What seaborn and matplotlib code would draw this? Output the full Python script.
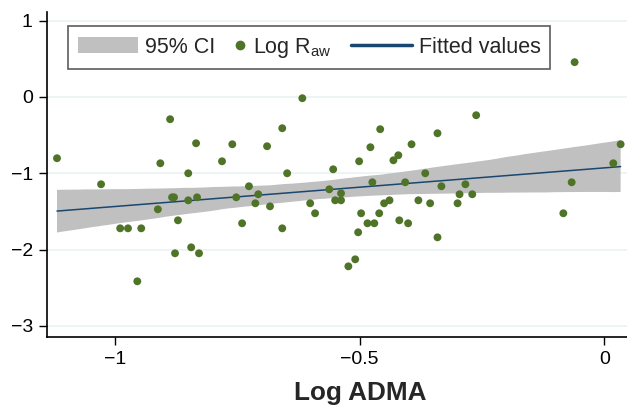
import pandas as pd
import seaborn as sns
import matplotlib.pyplot as plt
from matplotlib.patches import Patch
from matplotlib.lines import Line2D
from matplotlib.legend_handler import HandlerLine2D

# Datos
log_adma = [
    -1.118, -1.028, -0.989, -0.973, -0.946, -0.954, -0.907, -0.887, -0.912, -0.883,
    -0.879, -0.877, -0.871, -0.850, -0.850, -0.844, -0.834, -0.832, -0.828, -0.781,
    -0.760, -0.752, -0.740, -0.726, -0.713, -0.707, -0.689, -0.683, -0.658, -0.658,
    -0.648, -0.617, -0.601, -0.591, -0.562, -0.554, -0.550, -0.538, -0.538, -0.501,
    -0.431, -0.421, -0.474, -0.497, -0.503, -0.484, -0.470, -0.460, -0.450, -0.439,
    -0.509, -0.523, -0.419, -0.401, -0.407, -0.380, -0.366, -0.356, -0.341, -0.333,
    -0.296, -0.300, -0.284, -0.270, -0.084, -0.067, 0.018, -0.061, -0.262, -0.458,
    -0.341, -0.478, -0.394, 0.033,
]
log_raw = [
    -0.803, -1.144, -1.721, -1.721, -1.721, -2.415, -0.869, -0.292, -1.472, -1.315,
    -1.315, -2.048, -1.616, -1.000, -1.354, -1.970, -0.607, -1.315, -2.048, -0.843,
    -0.620, -1.315, -1.655, -1.170, -1.393, -1.275, -0.646, -1.433, -0.410, -1.721,
    -1.000, -0.017, -1.393, -1.524, -1.210, -0.948, -1.354, -1.262, -1.354, -0.843,
    -0.830, -0.764, -1.118, -1.524, -1.773, -1.655, -1.655, -1.524, -1.393, -1.354,
    -2.127, -2.219, -1.616, -1.655, -1.118, -1.354, -1.000, -1.393, -1.839, -1.170,
    -1.275, -1.393, -1.144, -1.275, -1.524, -1.118, -0.869, 0.455, -0.240, -0.423,
    -0.476, -0.659, -0.620, -0.620,
]
y_ticks = [1, 0, -1, -2, -3]
x_ticks = [-1, -0.5, 0]
x_tick_labels = ["\u22121", "\u22120.5", "0"]
y_tick_labels = ["1", "0", "\u22121", "\u22122", "\u22123"]

GREEN = "#4f7428"
NAVY = "#1a476f"
GRIS = "#c0c0c0"


class PuntoCorto(HandlerLine2D):
    # clave del marcador más estrecha que las demás
    def legend_artist(self, legend, orig_handle, fontsize, handlebox):
        handlebox.width = 0.47 * fontsize
        return super().legend_artist(legend, orig_handle, fontsize, handlebox)


df = pd.DataFrame({"log_adma": log_adma, "log_raw": log_raw})

sns.set_style("white")
plt.rcParams["font.family"] = ["Liberation Sans", "DejaVu Sans"]
plt.rcParams["mathtext.default"] = "regular"

fig = plt.figure(figsize=(6.27, 4.09), dpi=100)
ax = fig.add_axes([0.0745, 0.175, 0.9255, 0.796])

# Líneas de cuadrícula horizontales
for yt in y_ticks:
    ax.axhline(yt, color="#eaf2f3", linewidth=1.2, zorder=0)

sns.regplot(data=df, x="log_adma", y="log_raw", ax=ax, scatter=False, ci=95,
            n_boot=2000, seed=3, truncate=True,
            line_kws={"color": NAVY, "linewidth": 1.1, "zorder": 3})
# color del intervalo
for coll in ax.collections:
    coll.set_facecolor(GRIS)
    coll.set_alpha(1)
    coll.set_edgecolor("none")
    coll.set_zorder(2)

sns.scatterplot(data=df, x="log_adma", y="log_raw", ax=ax, color=GREEN, s=32,
                edgecolor="none", zorder=4)

ax.set_xlim(-1.139, 0.046)
ax.set_ylim(-3.15, 1.114)
ax.set_xticks(x_ticks)
ax.set_xticklabels(x_tick_labels)
ax.set_yticks(y_ticks)
ax.set_yticklabels(y_tick_labels)
ax.tick_params(axis="both", direction="out", length=6, width=1, labelsize=14,
               colors="black", left=True, bottom=True, pad=4)

for s in ["top", "right"]:
    ax.spines[s].set_visible(False)
for s in ["left", "bottom"]:
    ax.spines[s].set_color("black")
    ax.spines[s].set_linewidth(1.2)

ax.set_ylabel("")
ax.set_xlabel("Log ADMA", fontsize=18.8, fontweight="bold")
ax.xaxis.set_label_coords(0.54, -0.135)

dot = Line2D([], [], marker="o", linestyle="none", color=GREEN, markersize=6)
handles = [
    Patch(facecolor=GRIS, edgecolor="none"),
    dot,
    Line2D([], [], color=NAVY, linewidth=2.5),
]
labels = ["95% CI", "Log R$_{aw}$", "Fitted values"]
leg = ax.legend(handles, labels, ncol=3, loc="upper left", bbox_to_anchor=(0.0367, 0.957),
                fontsize=15.5, frameon=True, fancybox=False, handlelength=2.8,
                handletextpad=0.33, columnspacing=0.93, borderpad=0.45,
                borderaxespad=0, handler_map={dot: PuntoCorto(numpoints=1)})
leg.get_frame().set_edgecolor("#333333")
leg.get_frame().set_linewidth(1.2)

plt.savefig("out.png", dpi=100)
